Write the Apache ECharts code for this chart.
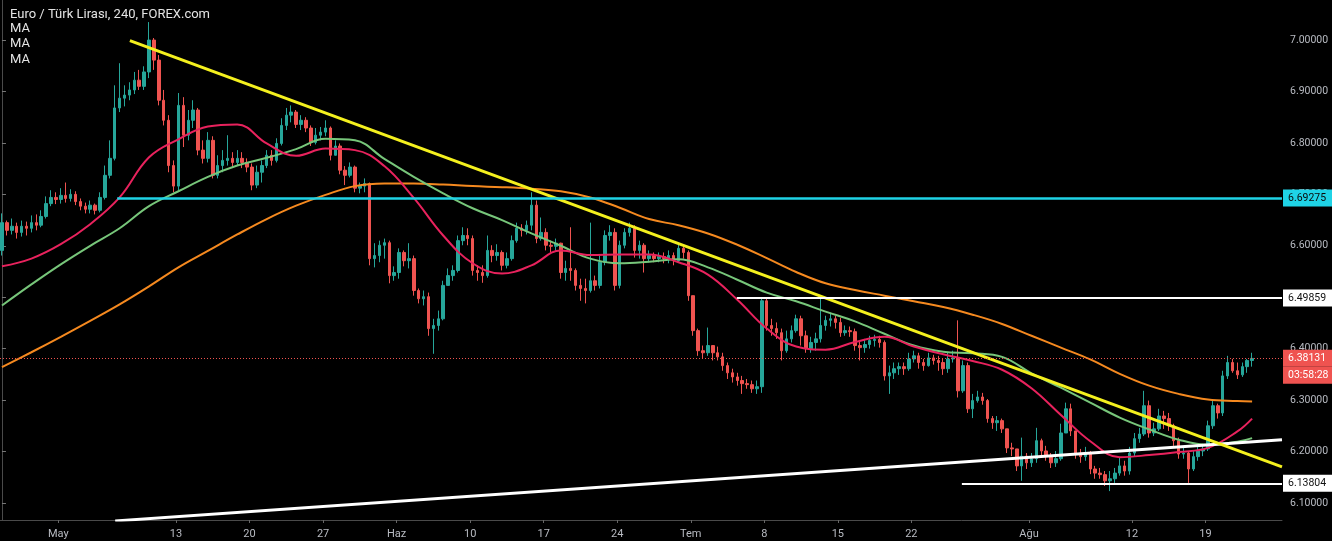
<!DOCTYPE html>
<html><head><meta charset="utf-8">
<script src="https://cdn.jsdelivr.net/npm/echarts@6/dist/echarts.min.js"></script>
<style>html,body{margin:0;padding:0;background:#000;}#c{width:1332px;height:541px;}</style>
</head><body><div id="c"></div>
<script>
// Trading calendar (weekdays), 3 bars (8h) per day; last day has one bar so far
const firstDay = '2019-04-25', lastDay = '2019-08-22';
const barsPerDay = 3;

const opens = [
6.591,6.645,6.630, 6.638,6.626,6.638, 6.634,6.645,6.640, 6.657,6.682,6.694, 6.690,6.698,6.692, 6.700,6.686,6.677,
6.671,6.679,6.669, 6.694,6.737,6.770, 6.868,6.887,6.893, 6.903,6.922,6.910, 6.938,7.000,6.961, 6.883,6.844,6.756,
6.716,6.873,6.815, 6.844,6.864,6.786, 6.770,6.805,6.737, 6.756,6.766,6.770, 6.762,6.770,6.762, 6.753,6.718,6.743,
6.756,6.776,6.766, 6.799,6.834,6.854, 6.860,6.836,6.844, 6.829,6.801,6.815, 6.821,6.829,6.776, 6.794,6.747,6.737,
6.753,6.712,6.716, 6.721,6.575,6.581, 6.601,6.606,6.542, 6.548,6.587,6.571, 6.575,6.513,6.497, 6.501,6.439,6.445,
6.458,6.523,6.542, 6.552,6.610,6.620, 6.614,6.552,6.548, 6.542,6.591,6.581, 6.587,6.562,6.575, 6.610,6.634,6.630,
6.640,6.679,6.614, 6.626,6.601,6.599, 6.605,6.548,6.556, 6.552,6.523,6.517, 6.513,6.532,6.523, 6.568,6.620,6.626,
6.523,6.601,6.626, 6.634,6.591,6.601, 6.575,6.581,6.575, 6.579,6.575,6.581, 6.571,6.595,6.587, 6.503,6.435,6.396,
6.392,6.406,6.392, 6.384,6.367,6.353, 6.345,6.338,6.332, 6.330,6.322,6.326, 6.493,6.445,6.439, 6.431,6.396,6.419,
6.435,6.458,6.425, 6.400,6.412,6.419, 6.445,6.455,6.458, 6.451,6.431,6.435, 6.433,6.406,6.402, 6.408,6.416,6.418,
6.412,6.347,6.353, 6.361,6.365,6.361, 6.380,6.386,6.373, 6.367,6.382,6.377, 6.373,6.361,6.380, 6.382,6.318,6.367,
6.283,6.299,6.306, 6.299,6.264,6.256, 6.260,6.244,6.207, 6.205,6.172,6.191, 6.178,6.186,6.221, 6.201,6.191,6.178,
6.186,6.236,6.283, 6.240,6.197,6.190, 6.197,6.166,6.158, 6.155,6.143,6.147, 6.158,6.172,6.162, 6.197,6.225,6.234,
6.289,6.236,6.244, 6.269,6.264,6.250, 6.221,6.195,6.197, 6.166,6.190,6.201, 6.205,6.250,6.289, 6.275,6.347,6.373,
6.357,6.349,6.365, 6.377];
const closes = [
6.645,6.630,6.638, 6.626,6.638,6.634, 6.645,6.640,6.657, 6.682,6.694,6.690, 6.698,6.692,6.700, 6.686,6.677,6.671,
6.679,6.669,6.694, 6.737,6.770,6.868, 6.887,6.893,6.903, 6.922,6.910,6.938, 7.000,6.961,6.883, 6.844,6.756,6.716,
6.873,6.815,6.844, 6.864,6.786,6.770, 6.805,6.737,6.756, 6.766,6.770,6.762, 6.770,6.762,6.753, 6.718,6.743,6.756,
6.776,6.766,6.799, 6.834,6.854,6.860, 6.836,6.844,6.829, 6.801,6.815,6.821, 6.829,6.776,6.794, 6.747,6.737,6.753,
6.712,6.716,6.721, 6.575,6.581,6.601, 6.606,6.542,6.548, 6.587,6.571,6.575, 6.513,6.497,6.501, 6.439,6.445,6.458,
6.523,6.542,6.552, 6.610,6.620,6.614, 6.552,6.548,6.542, 6.591,6.581,6.587, 6.562,6.575,6.610, 6.634,6.630,6.640,
6.679,6.614,6.626, 6.601,6.599,6.605, 6.548,6.556,6.552, 6.523,6.517,6.513, 6.532,6.523,6.568, 6.620,6.626,6.523,
6.601,6.626,6.634, 6.591,6.601,6.575, 6.581,6.575,6.579, 6.575,6.581,6.571, 6.595,6.587,6.503, 6.435,6.396,6.392,
6.406,6.392,6.384, 6.367,6.353,6.345, 6.338,6.332,6.330, 6.322,6.326,6.493, 6.445,6.439,6.431, 6.396,6.419,6.435,
6.458,6.425,6.400, 6.412,6.419,6.445, 6.455,6.458,6.451, 6.431,6.435,6.433, 6.406,6.402,6.408, 6.416,6.418,6.412,
6.347,6.353,6.361, 6.365,6.361,6.380, 6.386,6.373,6.367, 6.382,6.377,6.373, 6.361,6.380,6.382, 6.318,6.367,6.283,
6.299,6.306,6.299, 6.264,6.256,6.260, 6.244,6.207,6.205, 6.172,6.191,6.178, 6.186,6.221,6.201, 6.191,6.178,6.186,
6.236,6.283,6.240, 6.197,6.190,6.197, 6.166,6.158,6.155, 6.143,6.147,6.158, 6.172,6.162,6.197, 6.225,6.234,6.289,
6.236,6.244,6.269, 6.264,6.250,6.221, 6.195,6.197,6.166, 6.190,6.201,6.205, 6.250,6.289,6.275, 6.347,6.373,6.357,
6.349,6.365,6.377, 6.381];
const highs = [
6.663,6.649,6.653, 6.645,6.649,6.647, 6.659,6.661,6.669, 6.696,6.708,6.704, 6.712,6.723,6.710, 6.706,6.692,6.684,
6.688,6.682,6.704, 6.756,6.805,6.912, 6.955,6.912,6.918, 6.938,6.942,6.949, 7.035,7.004,6.971, 6.903,6.854,6.766,
6.897,6.889,6.864, 6.883,6.868,6.805, 6.821,6.813,6.776, 6.786,6.815,6.782, 6.786,6.782,6.770, 6.760,6.756,6.766,
6.786,6.786,6.809, 6.848,6.868,6.873, 6.864,6.854,6.850, 6.834,6.829,6.831, 6.844,6.832,6.805, 6.799,6.755,6.762,
6.756,6.723,6.731, 6.723,6.605,6.610, 6.614,6.610,6.560, 6.595,6.591,6.605, 6.581,6.517,6.513, 6.509,6.458,6.474,
6.532,6.556,6.562, 6.620,6.636,6.634, 6.620,6.562,6.562, 6.620,6.601,6.603, 6.591,6.587,6.620, 6.645,6.642,6.649,
6.704,6.688,6.655, 6.634,6.610,6.614, 6.606,6.571,6.636, 6.556,6.536,6.536, 6.645,6.542,6.581, 6.630,6.640,6.634,
6.610,6.634,6.645, 6.640,6.610,6.605, 6.591,6.587,6.587, 6.587,6.591,6.587, 6.605,6.603,6.591, 6.503,6.439,6.406,
6.441,6.406,6.404, 6.392,6.373,6.361, 6.353,6.347,6.341, 6.338,6.338,6.499, 6.499,6.458,6.451, 6.439,6.435,6.445,
6.466,6.464,6.435, 6.423,6.431,6.499, 6.464,6.470,6.464, 6.460,6.445,6.443, 6.439,6.416,6.419, 6.425,6.427,6.425,
6.416,6.367,6.373, 6.373,6.373,6.392, 6.396,6.392,6.380, 6.392,6.388,6.386, 6.380,6.392,6.396, 6.455,6.377,6.373,
6.312,6.318,6.314, 6.302,6.269,6.269, 6.264,6.244,6.217, 6.201,6.227,6.197, 6.197,6.246,6.225, 6.211,6.197,6.201,
6.254,6.295,6.293, 6.240,6.205,6.209, 6.201,6.172,6.168, 6.162,6.162,6.168, 6.188,6.182,6.209, 6.236,6.246,6.318,
6.299,6.256,6.283, 6.279,6.275,6.254, 6.227,6.209,6.201, 6.201,6.211,6.215, 6.260,6.299,6.293, 6.357,6.386,6.380,
6.373,6.373,6.380, 6.392];
const lows = [
6.581,6.620,6.622, 6.614,6.618,6.620, 6.626,6.630,6.636, 6.653,6.677,6.681, 6.682,6.684,6.686, 6.679,6.669,6.663,
6.663,6.661,6.665, 6.690,6.731,6.766, 6.860,6.871,6.883, 6.895,6.903,6.903, 6.926,6.942,6.873, 6.834,6.743,6.704,
6.708,6.792,6.805, 6.829,6.776,6.760, 6.762,6.731,6.731, 6.743,6.756,6.753, 6.755,6.751,6.743, 6.708,6.712,6.723,
6.751,6.756,6.762, 6.795,6.825,6.840, 6.829,6.825,6.821, 6.794,6.797,6.805, 6.813,6.766,6.782, 6.739,6.718,6.733,
6.704,6.702,6.704, 6.562,6.558,6.568, 6.575,6.527,6.532, 6.536,6.560,6.556, 6.503,6.488,6.484, 6.425,6.390,6.435,
6.455,6.523,6.532, 6.548,6.601,6.601, 6.542,6.532,6.528, 6.538,6.568,6.571, 6.552,6.556,6.571, 6.606,6.618,6.622,
6.630,6.605,6.610, 6.591,6.587,6.591, 6.536,6.532,6.532, 6.513,6.493,6.488, 6.509,6.513,6.517, 6.562,6.610,6.513,
6.517,6.595,6.618, 6.577,6.575,6.548, 6.568,6.568,6.568, 6.566,6.566,6.562, 6.568,6.575,6.493, 6.425,6.386,6.380,
6.386,6.377,6.377, 6.357,6.341,6.334, 6.328,6.312,6.322, 6.314,6.312,6.314, 6.435,6.425,6.419, 6.377,6.392,6.412,
6.431,6.406,6.392, 6.392,6.396,6.412, 6.435,6.443,6.439, 6.423,6.425,6.423, 6.396,6.377,6.392, 6.400,6.404,6.402,
6.338,6.312,6.341, 6.349,6.349,6.357, 6.373,6.361,6.357, 6.365,6.369,6.357, 6.349,6.353,6.373, 6.305,6.314,6.275,
6.265,6.295,6.291, 6.256,6.244,6.240, 6.236,6.197,6.191, 6.162,6.143,6.166, 6.170,6.178,6.188, 6.182,6.168,6.170,
6.182,6.236,6.230, 6.186,6.178,6.182, 6.156,6.147,6.147, 6.133,6.123,6.139, 6.153,6.153,6.155, 6.191,6.217,6.230,
6.227,6.230,6.240, 6.244,6.240,6.211, 6.186,6.186,6.139, 6.162,6.182,6.191, 6.201,6.244,6.264, 6.269,6.341,6.353,
6.341,6.345,6.353, 6.365];

// Moving averages read every 2nd trading day (+ last bar)
const maRed = [6.560,6.575,6.603,6.642,6.694,6.772,6.807,6.832,6.836,6.799,6.775,6.789,6.786,6.755,6.693,6.620,6.566,6.546,6.562,6.591,6.582,6.583,6.583,6.568,6.544,6.495,6.439,6.404,6.398,6.413,6.423,6.404,6.389,6.376,6.359,6.323,6.271,6.220,6.189,6.193,6.199,6.207,6.239,6.264];
const maGreen = [6.484,6.525,6.564,6.600,6.634,6.677,6.706,6.734,6.756,6.771,6.788,6.808,6.805,6.769,6.734,6.702,6.673,6.650,6.624,6.600,6.575,6.566,6.569,6.574,6.558,6.534,6.509,6.492,6.472,6.453,6.429,6.406,6.394,6.391,6.384,6.352,6.324,6.295,6.266,6.243,6.223,6.213,6.219,6.226];
const maOrange = [6.364,6.393,6.423,6.454,6.486,6.521,6.558,6.590,6.622,6.652,6.678,6.699,6.716,6.721,6.721,6.719,6.716,6.714,6.711,6.706,6.694,6.674,6.652,6.640,6.624,6.602,6.576,6.549,6.527,6.514,6.503,6.492,6.481,6.466,6.448,6.425,6.402,6.379,6.351,6.328,6.312,6.301,6.298,6.297];

const xTickLabels = [['2019-05-01','May'],['2019-05-13','13'],['2019-05-20','20'],['2019-05-27','27'],['2019-06-03','Haz'],['2019-06-10','10'],['2019-06-17','17'],['2019-06-24','24'],['2019-07-01','Tem'],['2019-07-08','8'],['2019-07-15','15'],['2019-07-22','22'],['2019-08-01','Ağu'],['2019-08-12','12'],['2019-08-19','19']];
const yTickValues = [6.1,6.2,6.3,6.4,6.5,6.6,6.7,6.8,6.9,7.0];

// Drawn levels and trend lines: [bar index, price]
const levelCyan = 6.69275, levelHigh = 6.49859, levelLow = 6.13804, lastPrice = 6.38131, countdown = '03:58:28';
const yellowTrend = [[26.1, 6.999], [261.1, 6.170]];
const whiteTrend = [[23.1, 6.065], [261.1, 6.223]];
const cyanStart = 23.5, highStart = 149.9, lowStart = 195.8;

// ---- build ----
const days = [];
for (let t = Date.parse(firstDay + 'T00:00:00Z'); t <= Date.parse(lastDay + 'T00:00:00Z'); t += 86400000) {
  const d = new Date(t); const w = d.getUTCDay();
  if (w > 0 && w < 6) days.push(d.toISOString().slice(0, 10));
}
const X_MIN = -0.4, X_MAX = 261.1;
const candleData = opens.map((o, i) => [i, o, closes[i], lows[i], highs[i]]);
const maBar = i => (i < maRed.length - 1 ? i * 2 * barsPerDay : opens.length - 1);
const maSeries = (arr) => arr.map((v, i) => [maBar(i), v]);
const xTickVals = xTickLabels.map(([d]) => days.indexOf(d) * barsPerDay - 0.5);
const xLabelFor = v => { let best = '', bd = 1e9; xTickVals.forEach((tv, i) => { const dd = Math.abs(tv - v); if (dd < bd) { bd = dd; best = xTickLabels[i][1]; } }); return best; };

const FONT = 'Roboto, sans-serif';
const lbl = (txt, bg, fg) => ({ show: true, position: 'end', distance: 1, formatter: txt, backgroundColor: bg, color: fg, fontSize: 10.5, fontFamily: FONT, padding: [3, 6, 3, 5] });
const red = '#ef5350';

const chart = echarts.init(document.getElementById('c'), null, { renderer: 'canvas' });
chart.setOption({
  backgroundColor: '#000000',
  animation: false,
  title: {
    left: 5, top: 3, text: 'Euro / Türk Lirası, 240, FOREX.com',
    textStyle: { color: '#e3e3e3', fontSize: 13, fontWeight: 'normal', fontFamily: 'Roboto' },
    subtext: 'MA\nMA\nMA',
    subtextStyle: { color: '#e3e3e3', fontSize: 13, lineHeight: 15.3, fontFamily: 'Roboto' },
    itemGap: 0
  },
  grid: { left: 0, right: 50, top: 0, bottom: 21, containLabel: false },
  xAxis: {
    type: 'value', min: X_MIN, max: X_MAX, z: 0,
    axisLine: { show: true, lineStyle: { color: '#4a4a4a' } },
    axisTick: { show: true, customValues: xTickVals, length: 3, lineStyle: { color: '#666' } },
    axisLabel: { customValues: xTickVals, formatter: xLabelFor, color: '#b8bbc2', fontSize: 11, fontFamily: FONT, margin: 9 },
    splitLine: { show: false }
  },
  yAxis: {
    type: 'value', position: 'right', min: 6.0668, max: 7.0779, z: 0,
    axisLine: { show: true, lineStyle: { color: '#4a4a4a' } },
    axisTick: { show: true, customValues: yTickValues, length: 4, lineStyle: { color: '#777' } },
    axisLabel: { customValues: yTickValues, formatter: v => v.toFixed(5), color: '#b8bbc2', fontSize: 10.5, fontFamily: FONT, margin: 8 },
    splitLine: { show: false }
  },
  series: [
    {
      type: 'candlestick', data: candleData, barWidth: 3, clip: true,
      itemStyle: { color: '#26a69a', color0: red, borderColor: '#26a69a', borderColor0: red, borderWidth: 1 }
    },
    { type: 'line', data: maSeries(maOrange), smooth: 0.4, showSymbol: false, lineStyle: { color: '#f5891f', width: 2 }, z: 3 },
    { type: 'line', data: maSeries(maGreen), smooth: 0.4, showSymbol: false, lineStyle: { color: '#77c67a', width: 2 }, z: 3 },
    { type: 'line', data: maSeries(maRed), smooth: 0.4, showSymbol: false, lineStyle: { color: '#e8225d', width: 2 }, z: 3 },
    { type: 'line', data: whiteTrend, showSymbol: false, lineStyle: { color: '#ffffff', width: 3 }, z: 6 },
    { type: 'line', data: yellowTrend, showSymbol: false, lineStyle: { color: '#f4f01e', width: 3 }, z: 6 },
    {
      type: 'line', data: [], z: 20, zlevel: 1,
      markLine: {
        silent: true, symbol: ['none', 'none'], animation: false, z: 20,
        data: [
          [{ coord: [X_MIN, lastPrice], lineStyle: { color: red, width: 1, type: [1, 2] },
             label: { show: true, position: 'end', distance: 1, formatter: '{e| }\n{a|' + lastPrice.toFixed(5) + '}\n{b|' + countdown + '}',
               rich: { e: { height: 17, fontSize: 10.5 }, a: { backgroundColor: red, color: '#fff', fontSize: 10.5, fontFamily: FONT, height: 13, width: 38, padding: [2, 6, 2, 5] },
                       b: { backgroundColor: red, color: '#fff', fontSize: 10.5, fontFamily: FONT, height: 13, width: 38, padding: [2, 6, 2, 5] } } } },
           { coord: [X_MAX, lastPrice] }],
          [{ coord: [cyanStart, levelCyan], lineStyle: { color: '#1fd3e6', width: 2.5, type: 'solid' }, label: lbl(levelCyan.toFixed(5), '#1fd3e6', '#0a0a0a') },
           { coord: [X_MAX, levelCyan] }],
          [{ coord: [highStart, levelHigh], lineStyle: { color: '#ffffff', width: 2, type: 'solid' }, label: lbl(levelHigh.toFixed(5), '#ffffff', '#111') },
           { coord: [X_MAX, levelHigh] }],
          [{ coord: [lowStart, levelLow], lineStyle: { color: '#ffffff', width: 2, type: 'solid' }, label: lbl(levelLow.toFixed(5), '#ffffff', '#111') },
           { coord: [X_MAX, levelLow] }]
        ]
      }
    }
  ]
});
</script></body></html>
